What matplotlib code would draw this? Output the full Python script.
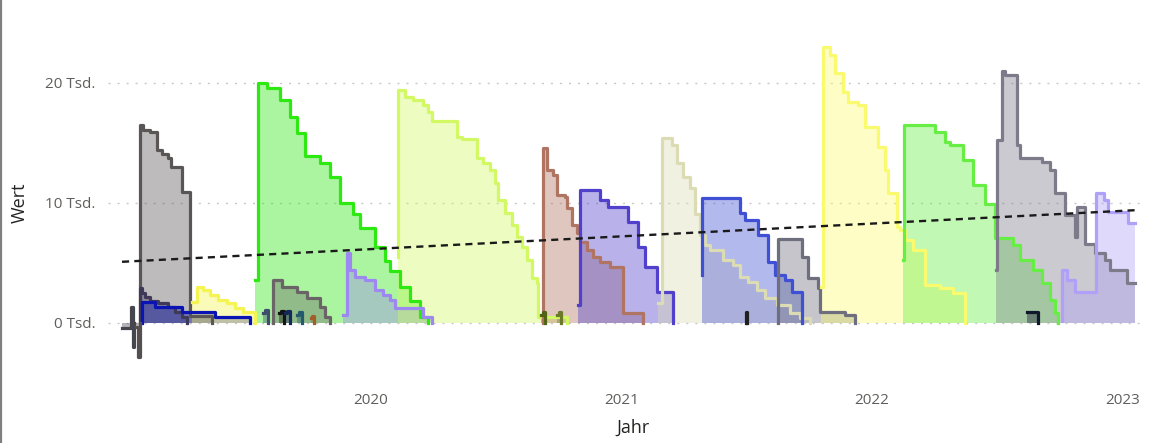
import matplotlib
matplotlib.use('Agg')
import matplotlib.pyplot as plt
from matplotlib.ticker import FuncFormatter

# times in decimal years, values in Tsd.; each value holds until the next time
gray19_t = [2019.078, 2019.078, 2019.090, 2019.118, 2019.146, 2019.166, 2019.190, 2019.202, 2019.246, 2019.277, 2019.365]
gray19_v = [0, 16.5, 16.1, 15.9, 14.4, 14.1, 13.75, 13.0, 10.9, 0.6, 0]

navy19_t = [2019.078, 2019.078, 2019.086, 2019.098, 2019.118, 2019.150, 2019.190, 2019.218, 2019.246, 2019.265]
navy19_v = [0, 2.9, 2.5, 2.2, 1.8, 1.65, 1.35, 0.9, 0.5, 0]

blue19_t = [2019.086, 2019.086, 2019.138, 2019.246, 2019.377, 2019.517]
blue19_v = [0, 1.75, 1.35, 0.9, 0.5, 0]

yellow19_t = [2019.285, 2019.305, 2019.329, 2019.357, 2019.389, 2019.425, 2019.457, 2019.489, 2019.537]
yellow19_v = [1.75, 3.0, 2.75, 2.3, 1.9, 1.65, 1.25, 0.9, 0]

green19_t = [2019.537, 2019.549, 2019.585, 2019.637, 2019.677, 2019.705, 2019.737, 2019.796, 2019.836,
             2019.876, 2019.928, 2019.956, 2020.016, 2020.056, 2020.076, 2020.116, 2020.156, 2020.196, 2020.228]
green19_v = [3.6, 20.0, 19.6, 18.6, 17.2, 15.8, 13.9, 13.3, 12.2, 10.0, 9.1, 7.9, 6.3, 5.2, 4.3, 3.0, 1.8, 0.5, 0]

grayb19_t = [2019.609, 2019.609, 2019.645, 2019.705, 2019.745, 2019.796, 2019.816, 2019.836]
grayb19_v = [0, 3.6, 3.0, 2.6, 2.1, 1.3, 0.5, 0]

lav19_t = [2019.888, 2019.904, 2019.916, 2019.936, 2019.976, 2020.016, 2020.048, 2020.076, 2020.096, 2020.208, 2020.244]
lav19_v = [0.7, 5.8, 4.4, 3.8, 3.6, 2.75, 2.3, 1.9, 1.25, 0.5, 0]

lime20_t = [2020.108, 2020.108, 2020.136, 2020.168, 2020.208, 2020.228, 2020.244, 2020.343, 2020.363, 2020.423,
            2020.447, 2020.475, 2020.495, 2020.507, 2020.535, 2020.563, 2020.583, 2020.603, 2020.623, 2020.643,
            2020.663, 2020.667, 2020.782]
lime20_v = [5.5, 19.4, 18.8, 18.6, 18.2, 17.6, 16.8, 15.5, 15.3, 13.75, 13.3, 12.75, 11.7, 10.25, 9.2, 8.2,
            7.2, 6.3, 5.25, 3.75, 3.3, 0.5, 0]

brown20_t = [2020.685, 2020.685, 2020.703, 2020.727, 2020.743, 2020.774, 2020.782, 2020.802, 2020.822, 2020.834,
             2020.862, 2020.886, 2020.914, 2020.954, 2021.006, 2021.086]
brown20_v = [0, 14.6, 12.75, 12.3, 10.7, 10.5, 9.6, 8.2, 7.5, 6.75, 6.1, 5.5, 5.1, 4.7, 0.8, 0]

violet20_t = [2020.826, 2020.834, 2020.914, 2020.946, 2021.026, 2021.066, 2021.094, 2021.142, 2021.206]
violet20_v = [1.5, 11.1, 10.25, 9.7, 8.4, 6.3, 4.7, 2.6, 0]

beige21_t = [2021.146, 2021.162, 2021.202, 2021.222, 2021.246, 2021.273, 2021.293, 2021.313, 2021.333, 2021.353,
             2021.405, 2021.445, 2021.473, 2021.505, 2021.541, 2021.573, 2021.621, 2021.673, 2021.713, 2021.752]
beige21_v = [1.7, 15.4, 14.8, 13.3, 12.2, 11.25, 9.1, 7.3, 6.5, 6.1, 5.25, 4.8, 3.8, 3.4, 2.75, 2.1, 1.5, 0.8, 0.4, 0]

blue21_t = [2021.321, 2021.321, 2021.473, 2021.493, 2021.545, 2021.585, 2021.613, 2021.653, 2021.681, 2021.721]
blue21_v = [4.0, 10.4, 9.2, 8.6, 7.3, 5.1, 4.0, 3.6, 2.6, 0]

gray21_t = [2021.623, 2021.623, 2021.721, 2021.745, 2021.784, 2021.792, 2021.892, 2021.932]
gray21_v = [0, 7.0, 5.5, 3.75, 2.9, 0.9, 0.7, 0]

yellow21_t = [2021.796, 2021.804, 2021.832, 2021.852, 2021.884, 2021.904, 2021.944, 2021.972, 2022.024, 2022.052,
              2022.064, 2022.100, 2022.112, 2022.132, 2022.164, 2022.212, 2022.271, 2022.323, 2022.371]
yellow21_v = [3.0, 23.0, 22.3, 20.8, 19.25, 18.4, 18.2, 16.3, 14.7, 12.75, 10.8, 8.0, 7.75, 6.9, 6.1, 3.2, 2.9, 2.5, 0]

green22_t = [2022.124, 2022.128, 2022.251, 2022.291, 2022.311, 2022.363, 2022.403, 2022.451, 2022.491, 2022.563,
             2022.591, 2022.643, 2022.679, 2022.711, 2022.731, 2022.743]
green22_v = [5.25, 16.5, 15.9, 15.1, 14.8, 13.6, 11.5, 9.9, 7.1, 6.5, 5.25, 4.4, 3.3, 1.9, 0.8, 0]

gray22_t = [2022.495, 2022.499, 2022.519, 2022.531, 2022.579, 2022.591, 2022.679, 2022.711, 2022.731, 2022.770,
            2022.810, 2022.818, 2022.850, 2022.890, 2022.930, 2022.950, 2023.018, 2023.050]
gray22_v = [4.4, 15.25, 21.0, 20.7, 14.8, 13.75, 13.4, 12.75, 10.8, 9.0, 7.2, 9.7, 6.6, 5.8, 5.25, 4.4, 3.3, 3.3]

lav22_t = [2022.758, 2022.758, 2022.778, 2022.810, 2022.894, 2022.926, 2022.942, 2023.022, 2023.050]
lav22_v = [0.2, 4.4, 3.6, 2.6, 10.8, 10.25, 9.25, 8.3, 8.3]

# small series near zero
neg1_t = [2019.006, 2019.042, 2019.048, 2019.054]
neg1_v = [-0.4, 1.3, -2.0, 0]
neg2_t = [2019.062, 2019.068, 2019.076]
neg2_v = [-0.3, -2.8, 0]
tick_a_t = [2019.569, 2019.577, 2019.589]
tick_a_v = [0.8, 1.05, 0]
tick_b_t = [2019.633, 2019.641, 2019.653]
tick_b_v = [0.8, 1.0, 0]
tick_c_t = [2019.657, 2019.665, 2019.677]
tick_c_v = [0.8, 1.0, 0]
tick_d_t = [2019.705, 2019.713, 2019.725]
tick_d_v = [0.7, 0.9, 0]
tick_e_t = [2019.760, 2019.764, 2019.772]
tick_e_v = [0.4, 0.55, 0]
tick_f_t = [2020.679, 2020.687, 2020.695]
tick_f_v = [0.7, 0.9, 0]
tick_g_t = [2020.743, 2020.751, 2020.758]
tick_g_v = [0.7, 0.9, 0]
tick_h_t = [2021.497, 2021.497, 2021.501]
tick_h_v = [0, 0.9, 0]
tick_i_t = [2022.619, 2022.661]
tick_i_v = [0.95, 0]

trend_t = [2019.006, 2023.050]
trend_v = [5.1, 9.4]

year_ticks = [2020, 2021, 2022, 2023]
value_ticks = [0, 10, 20]

series = [
    (gray19_t, gray19_v, '#5a5656'),
    (navy19_t, navy19_v, '#3e3a58'),
    (blue19_t, blue19_v, '#0a14b4'),
    (yellow19_t, yellow19_v, '#f4f452'),
    (green19_t, green19_v, '#2ee812'),
    (grayb19_t, grayb19_v, '#6a6466'),
    (lav19_t, lav19_v, '#9c88f0'),
    (lime20_t, lime20_v, '#d2f864'),
    (brown20_t, brown20_v, '#b07462'),
    (violet20_t, violet20_v, '#5040cc'),
    (beige21_t, beige21_v, '#dcdcb4'),
    (blue21_t, blue21_v, '#4050d4'),
    (gray21_t, gray21_v, '#6e6e7e'),
    (yellow21_t, yellow21_v, '#fafa6e'),
    (green22_t, green22_v, '#66ee44'),
    (gray22_t, gray22_v, '#7d7b8a'),
    (lav22_t, lav22_v, '#b0a0f8'),
    (neg1_t, neg1_v, '#46464f'),
    (neg2_t, neg2_v, '#55504f'),
    (tick_a_t, tick_a_v, '#3e4c6e'),
    (tick_b_t, tick_b_v, '#141414'),
    (tick_c_t, tick_c_v, '#14285a'),
    (tick_d_t, tick_d_v, '#235a6e'),
    (tick_e_t, tick_e_v, '#a0602c'),
    (tick_f_t, tick_f_v, '#506414'),
    (tick_g_t, tick_g_v, '#6a7a28'),
    (tick_h_t, tick_h_v, '#202020'),
    (tick_i_t, tick_i_v, '#10182c'),
]

plt.rcParams['font.family'] = ['Open Sans', 'DejaVu Sans']

W, H = 1151, 443
fig = plt.figure(figsize=(W / 100, H / 100), dpi=100)
ax = fig.add_axes([108 / W, 1 - 385 / H, (1140 - 108) / W, (385 - 20) / H])

# areas first, then all lines on top
for t, v, c in series:
    ax.fill_between(t, v, 0, step='post', color=c, alpha=0.4, lw=0, zorder=2)
for t, v, c in series:
    ax.step(t, v, where='post', color=c, lw=2.3, zorder=3)

ax.plot(trend_t, trend_v, color='#1a1a1a', lw=1.7, dashes=(3, 2.2), zorder=4)

ax.set_xlim(2018.950, 2023.070)
ax.set_ylim(-5.167, 25.25)

for s in ax.spines.values():
    s.set_visible(False)
ax.set_yticks(value_ticks)
ax.yaxis.set_major_formatter(FuncFormatter(lambda x, p: f'{int(x)} Tsd.'))
ax.set_xticks(year_ticks)
ax.set_xticklabels([str(y) for y in year_ticks])
ax.tick_params(axis='both', length=0, labelsize=11, labelcolor='#605e5c')
ax.tick_params(axis='y', pad=9)
ax.tick_params(axis='x', pad=6)
ax.grid(axis='y', color='#c8c8c8', lw=1, linestyle=(0, (1.5, 5)), zorder=0)

ax.set_xlabel('Jahr', fontsize=13, color='#252423')
ax.set_ylabel('Wert', fontsize=13, color='#252423')
ax.xaxis.set_label_coords((633 - 108) / (1140 - 108), -(428 - 385) / (385 - 20))
ax.yaxis.set_label_coords(-(108 - 20) / (1140 - 108), (385 - 203) / (385 - 20))
ax.xaxis.label.set_va('center')
ax.yaxis.label.set_va('center')

# left frame edge of the visual
fig.add_artist(plt.Line2D([1 / W, 1 / W], [0, 1], color='#7f7f7f', lw=1.6, transform=fig.transFigure))

fig.savefig('out.png', dpi=100)
